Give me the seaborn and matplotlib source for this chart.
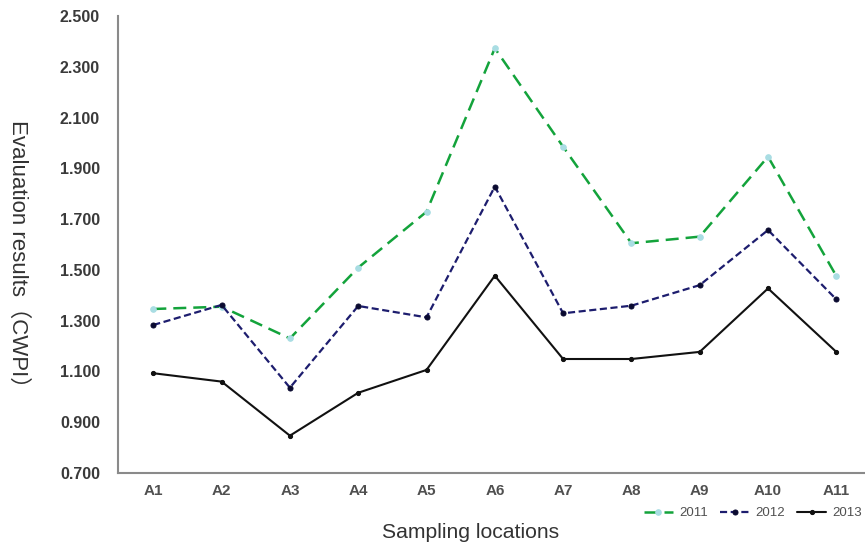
import pandas as pd
import seaborn as sns
import matplotlib.pyplot as plt

# data
locations = ['A1', 'A2', 'A3', 'A4', 'A5', 'A6', 'A7', 'A8', 'A9', 'A10', 'A11']
cwpi_2011 = [1.346, 1.355, 1.230, 1.509, 1.729, 2.373, 1.985, 1.605, 1.631, 1.946, 1.476]
cwpi_2012 = [1.283, 1.362, 1.036, 1.358, 1.313, 1.828, 1.329, 1.359, 1.440, 1.657, 1.384]
cwpi_2013 = [1.093, 1.060, 0.847, 1.016, 1.106, 1.477, 1.149, 1.149, 1.177, 1.427, 1.177]
yticks = [0.7, 0.9, 1.1, 1.3, 1.5, 1.7, 1.9, 2.1, 2.3, 2.5]

sns.set_theme(style="white")
plt.rcParams['font.family'] = ['Liberation Sans', 'Noto Sans CJK SC', 'DejaVu Sans']

fig = plt.figure(figsize=(8.65, 5.47), dpi=100)
ax = fig.add_axes([118 / 865, 74 / 547, 747 / 865, 457 / 547])

x = list(range(len(locations)))

sns.lineplot(x=x, y=cwpi_2011, ax=ax, color='#13a33b', linewidth=1.8,
             linestyle=(0, (5.2, 2.8)), marker='o', markersize=4,
             markerfacecolor='#a9dde3', markeredgecolor='#a9dde3', label='2011')
sns.lineplot(x=x, y=cwpi_2012, ax=ax, color='#1d1d6e', linewidth=1.6,
             linestyle=(0, (3.2, 1.6)), marker='o', markersize=3.6,
             markerfacecolor='#0a0a30', markeredgecolor='#0a0a30', label='2012')
sns.lineplot(x=x, y=cwpi_2013, ax=ax, color='#111111', linewidth=1.5,
             marker='o', markersize=3,
             markerfacecolor='#111111', markeredgecolor='#111111', label='2013')

ax.set_xlim(-0.517, 10.42)
ax.set_ylim(0.7, 2.5)
ax.set_xticks(x)
ax.set_xticklabels(locations)
ax.set_yticks(yticks)
ax.set_yticklabels([f'{v:.3f}' for v in yticks])
ax.tick_params(axis='y', length=0, pad=13, labelsize=11.5, labelcolor='#3a3a3a')
ax.tick_params(axis='x', length=0, pad=8, labelsize=11, labelcolor='#505050')
for lab in ax.get_xticklabels() + ax.get_yticklabels():
    lab.set_fontweight('bold')

for side in ['top', 'right']:
    ax.spines[side].set_visible(False)
for side in ['left', 'bottom']:
    ax.spines[side].set_color('#8a8a8a')
    ax.spines[side].set_linewidth(1.5)

ax.set_xlabel('')
ax.set_ylabel('')
fig.text(471 / 865, 14 / 547, 'Sampling locations', ha='center', va='center',
         fontsize=15.2, color='#333333')
fig.text(18 / 865, (547 - 259) / 547, 'Evaluation results（CWPI）', rotation=270,
         ha='center', va='center', fontsize=16, color='#333333')

ax.get_legend().remove()
handles, labels = ax.get_legend_handles_labels()
fig.legend(handles, labels, loc='center right', bbox_to_anchor=(1.0, 34 / 547),
           ncol=3, frameon=False, fontsize=9.5, handlelength=2.2,
           handletextpad=0.5, columnspacing=0.9, labelcolor='#505050',
           borderpad=0.1, borderaxespad=0.1)

plt.savefig('out.png', dpi=100)
